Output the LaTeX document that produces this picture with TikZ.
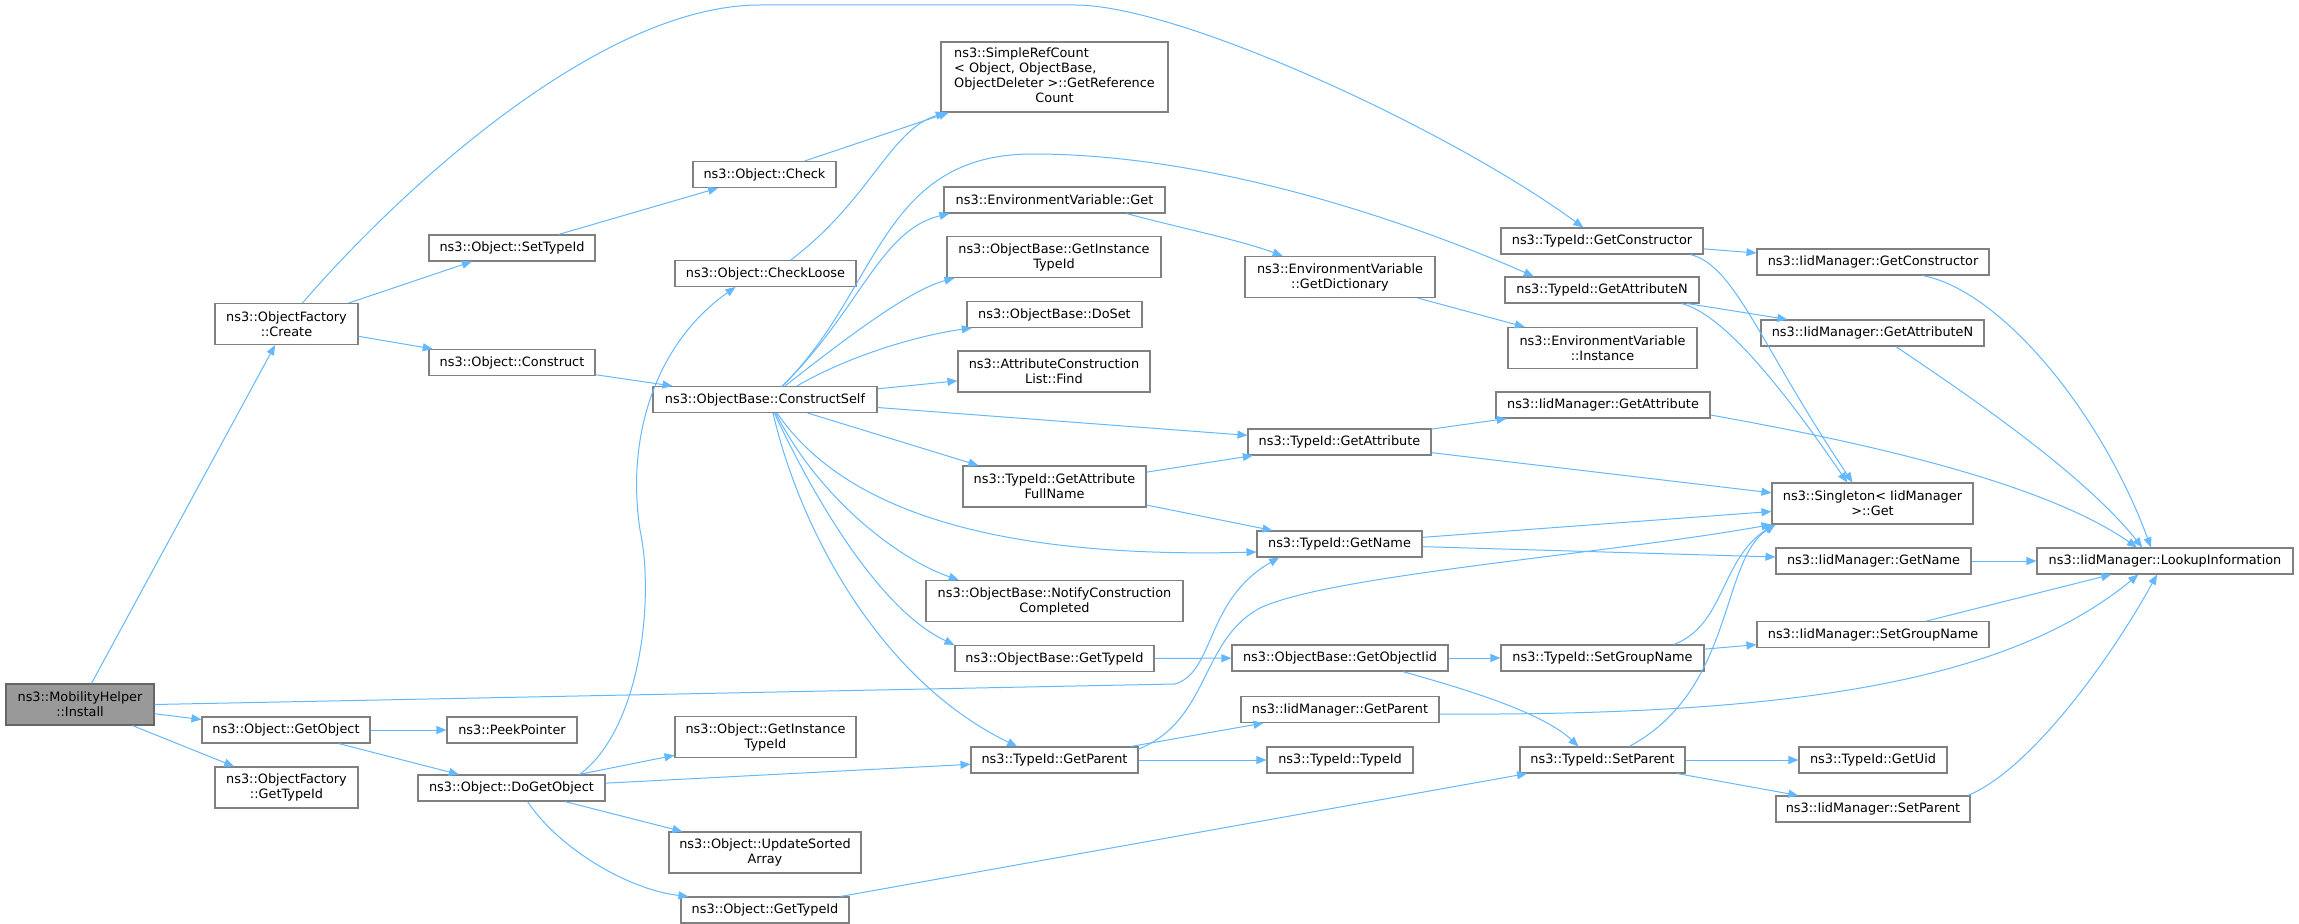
\documentclass[tikz,border=0pt]{standalone}
\usepackage{fontspec}
\setmainfont{DejaVu Sans}
\usetikzlibrary{arrows.meta}
\definecolor{edgeblue}{HTML}{63B8FF}
\definecolor{boxline}{HTML}{808080}
\definecolor{rootfill}{HTML}{999999}
\definecolor{rootline}{HTML}{666666}
\begin{document}
\begin{tikzpicture}[x=0.75pt,y=-0.75pt,
  fn/.style={draw=boxline,line width=0.8pt,fill=white,align=center,inner xsep=2pt,inner ysep=2pt,
    minimum height=19.5pt,font=\fontsize{9.65}{11.25}\selectfont},
  two/.style={minimum height=30.75pt},
  bw/.style={minimum width=#1*0.75pt},
  root/.style={fill=rootfill,draw=rootline},
  ln/.style={draw=edgeblue,line width=0.75pt,-{Triangle[length=7.5pt,width=6pt]}}]
\useasboundingbox (0,0) rectangle (2299,924);

\node[fn,root,two,bw=148] (inst) at (80,704.5) {ns3::MobilityHelper\\::Install};
\node[fn,two,bw=143] (create) at (286.5,324) {ns3::ObjectFactory\\::Create};
\node[fn,bw=168] (getobj) at (286,730) {ns3::Object::GetObject};
\node[fn,two,bw=143] (oftid) at (286.5,787.5) {ns3::ObjectFactory\\::GetTypeId};
\node[fn,bw=166] (settid) at (512,248) {ns3::Object::SetTypeId};
\node[fn,bw=166] (constr) at (512,362.5) {ns3::Object::Construct};
\node[fn,bw=130] (peek) at (512,730) {ns3::PeekPointer};
\node[fn,bw=187] (dogo) at (511.5,788) {ns3::Object::DoGetObject};
\node[fn,bw=143] (check) at (764.5,174.5) {ns3::Object::Check};
\node[fn,bw=181] (chkloose) at (765.5,273.5) {ns3::Object::CheckLoose};
\node[fn,bw=224] (cself) at (765,399.5) {ns3::ObjectBase::ConstructSelf};
\node[fn,two,bw=181] (oitid) at (765.5,737) {ns3::Object::GetInstance\\TypeId};
\node[fn,two,bw=192] (usa) at (765,852.5) {ns3::Object::UpdateSorted\\Array};
\node[fn,bw=168] (otid) at (765,910) {ns3::Object::GetTypeId};
\node[fn,bw=227,minimum height=52.5pt] (src) at (1054.5,77) {\begin{tabular}{@{}c@{}}\multicolumn{1}{@{}l}{ns3::SimpleRefCount}\\\multicolumn{1}{@{}l}{< Object, ObjectBase,}\\ObjectDeleter >::GetReference\\Count\end{tabular}};
\node[fn,bw=221] (evget) at (1054.5,200) {ns3::EnvironmentVariable::Get};
\node[fn,two,bw=214] (obitid) at (1054,257) {ns3::ObjectBase::GetInstance\\TypeId};
\node[fn,bw=175] (doset) at (1054.5,314.5) {ns3::ObjectBase::DoSet};
\node[fn,two,bw=192] (find) at (1054,371.5) {ns3::AttributeConstruction\\List::Find};
\node[fn,two,bw=183] (afn) at (1054.5,486.5) {ns3::TypeId::GetAttribute\\FullName};
\node[fn,two,bw=257] (ncc) at (1054.5,601) {ns3::ObjectBase::NotifyConstruction\\Completed};
\node[fn,bw=199] (obtid) at (1054.5,658.5) {ns3::ObjectBase::GetTypeId};
\node[fn,bw=167] (gpar) at (1054.5,760) {ns3::TypeId::GetParent};
\node[fn,two,bw=190] (gdict) at (1340,277) {ns3::EnvironmentVariable\\::GetDictionary};
\node[fn,bw=183] (gattr) at (1339.5,442) {ns3::TypeId::GetAttribute};
\node[fn,bw=165] (gname) at (1339.5,544) {ns3::TypeId::GetName};
\node[fn,bw=216] (goiid) at (1340,658) {ns3::ObjectBase::GetObjectIid};
\node[fn,bw=198] (igpar) at (1340,709.5) {ns3::IidManager::GetParent};
\node[fn,bw=146] (tidc) at (1340,760) {ns3::TypeId::TypeId};
\node[fn,bw=202] (gctor) at (1602,241) {ns3::TypeId::GetConstructor};
\node[fn,bw=194] (gattrn) at (1602,290) {ns3::TypeId::GetAttributeN};
\node[fn,two,bw=189] (evinst) at (1602.5,348) {ns3::EnvironmentVariable\\::Instance};
\node[fn,bw=214] (igattr) at (1603,405) {ns3::IidManager::GetAttribute};
\node[fn,bw=203] (sgname) at (1602.5,658) {ns3::TypeId::SetGroupName};
\node[fn,bw=165] (spar) at (1602.5,760) {ns3::TypeId::SetParent};
\node[fn,bw=232] (igctor) at (1873,262) {ns3::IidManager::GetConstructor};
\node[fn,bw=223] (igattrn) at (1872.5,333) {ns3::IidManager::GetAttributeN};
\node[fn,two,bw=201] (sget) at (1872.5,503.5) {ns3::Singleton< IidManager\\>::Get};
\node[fn,bw=195] (igname) at (1873.5,561) {ns3::IidManager::GetName};
\node[fn,bw=232] (isgname) at (1873,634.5) {ns3::IidManager::SetGroupName};
\node[fn,bw=148] (guid) at (1873,760) {ns3::TypeId::GetUid};
\node[fn,bw=194] (ispar) at (1873,809) {ns3::IidManager::SetParent};
\node[fn,bw=256] (lookup) at (2165,561) {ns3::IidManager::LookupInformation};

\draw[ln] (inst) -- (create);
\draw[ln] (inst) -- (getobj);
\draw[ln] (inst) -- (oftid);
\draw[ln] (inst.east) -- (1175,684) .. controls (1215,672) and (1205,600) .. ([xshift=17pt]gname.south west);
\draw[ln] ([xshift=12pt]create.north) .. controls (400,190) and (600,5) .. (760,5) -- (1075,5) .. controls (1180,5) and (1450,130) .. ([xshift=-14pt]gctor.north);
\draw[ln] (create) -- (settid);
\draw[ln] (create) -- (constr);
\draw[ln] (getobj) -- (peek);
\draw[ln] (getobj) -- (dogo);
\draw[ln] (settid) -- (check);
\draw[ln] (constr) -- (cself);
\draw[ln] (check) -- (src);
\draw[ln] ([xshift=19pt]chkloose.north) .. controls (870,200) and (890,130) .. ([xshift=4pt]src.south west);
\draw[ln] ([xshift=51pt]dogo.north) .. controls (640,730) and (655,600) .. (640,530) .. controls (625,430) and (660,340) .. ([xshift=-22.5pt]chkloose.south);
\draw[ln] (dogo) -- (oitid);
\draw[ln] (dogo) -- (gpar);
\draw[ln] (dogo) -- (usa);
\draw[ln] ([xshift=12pt]dogo.south) .. controls (560,850) and (630,890) .. ([xshift=6pt]otid.north west);
\draw[ln] (otid) -- (spar);

\draw[ln] ([xshift=13pt]cself.north) .. controls (860,310) and (880,230) .. ([xshift=4.5pt]evget.south west);
\draw[ln] ([xshift=15pt]cself.north) .. controls (850,335) and (910,290) .. ([xshift=6pt]obitid.south west);
\draw[ln] ([xshift=24pt]cself.north) .. controls (850,355) and (920,335) .. ([xshift=4pt]doset.south west);
\draw[ln] ([xshift=13pt]cself.north) .. controls (880,290) and (880,154) .. (1033,154) .. controls (1230,154) and (1440,235) .. ([xshift=22pt]gattrn.north west);
\draw[ln] ([yshift=8pt]cself.east) -- ([yshift=-7pt]find.west);
\draw[ln] ([yshift=-6pt]cself.east) -- ([yshift=5pt]gattr.west);
\draw[ln] ([xshift=32pt]cself.south) -- ([xshift=12pt]afn.north west);
\draw[ln] ([xshift=9pt]cself.south) .. controls (830,490) and (950,560) .. ([yshift=-6pt]gname.west);
\draw[ln] ([xshift=8pt]cself.south) .. controls (820,500) and (900,560) .. ([xshift=25pt]ncc.north west);
\draw[ln] ([xshift=7pt]cself.south) .. controls (815,500) and (880,610) .. (obtid.north west);
\draw[ln] ([xshift=6pt]cself.south) .. controls (800,530) and (880,680) .. ([xshift=-28pt]gpar.north);

\draw[ln] ([xshift=54pt]evget.south) .. controls (1180,228) and (1240,240) .. ([xshift=-43pt]gdict.north);
\draw[ln] (gdict) -- (evinst);
\draw[ln] (afn) -- (gattr);
\draw[ln] (afn) -- (gname);
\draw[ln] (gattr) -- (igattr);
\draw[ln] ([yshift=-8pt]gattr.east) -- ([yshift=8pt]sget.west);
\draw[ln] ([yshift=5pt]gname.east) -- ([yshift=-6pt]sget.west);
\draw[ln] ([yshift=-2pt]gname.east) -- ([yshift=3pt]igname.west);
\draw[ln] (obtid) -- (goiid);
\draw[ln] (goiid) -- (sgname);
\draw[ln] ([xshift=47pt]goiid.south) .. controls (1450,685) and (1540,710) .. ([xshift=-18pt]spar.north);
\draw[ln] (gpar) -- (igpar);
\draw[ln] (gpar) -- (tidc);
\draw[ln] ([yshift=-2pt]gpar.north east) .. controls (1210,720) and (1200,640) .. (1260,608) .. controls (1330,575) and (1600,555) .. (sget.south west);

\draw[ln] (gctor) -- (igctor);
\draw[ln] ([xshift=-10pt]gctor.south east) .. controls (1735,265) and (1760,345) .. ([xshift=-15pt]sget.north);
\draw[ln] (gattrn) -- (igattrn);
\draw[ln] ([xshift=-13.5pt]gattrn.south east) .. controls (1715,312) and (1765,362) .. ([xshift=-19pt]sget.north);
\draw[ln] ([xshift=37pt]igctor.south) .. controls (2000,290) and (2100,410) .. ([xshift=-10.5pt]lookup.north);
\draw[ln] ([xshift=17.5pt]igattrn.south) .. controls (1960,390) and (2080,470) .. ([xshift=-17pt]lookup.north);
\draw[ln] ([yshift=-7.5pt]igattr.east) .. controls (1850,440) and (2040,480) .. ([xshift=-21pt]lookup.north);
\draw[ln] (igname) -- (lookup);
\draw[ln] (sgname) -- (isgname);
\draw[ln] ([xshift=53.5pt]sgname.north) .. controls (1725,625) and (1720,560) .. ([xshift=2pt]sget.south west);
\draw[ln] (isgname) -- (lookup);
\draw[ln] ([yshift=-3.4pt]igpar.east) .. controls (1800,716) and (2010,680) .. ([xshift=-20pt]lookup.south);
\draw[ln] ([xshift=20pt]spar.north) .. controls (1735,690) and (1720,560) .. ([xshift=3pt]sget.south west);
\draw[ln] (spar) -- (guid);
\draw[ln] (spar) -- (ispar);
\draw[ln] ([xshift=-2pt]ispar.north east) .. controls (2030,770) and (2110,660) .. ([xshift=-6pt]lookup.south);
\end{tikzpicture}
\end{document}
